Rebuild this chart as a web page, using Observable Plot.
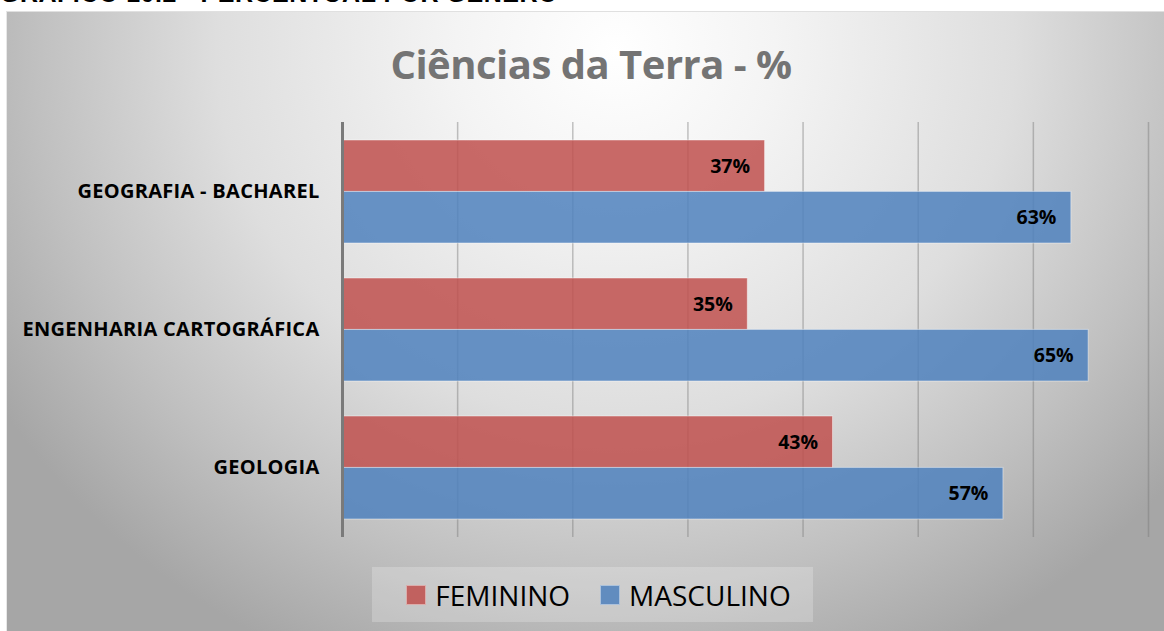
<!DOCTYPE html>
<html>
<head>
<meta charset="utf-8">
<script src="https://cdn.jsdelivr.net/npm/d3@7"></script>
<script src="https://cdn.jsdelivr.net/npm/@observablehq/plot@0.6"></script>
<style>
  html, body { margin: 0; padding: 0; background: #fff; }
  #wrap { position: relative; width: 1164px; height: 631px; overflow: hidden; background: #fff; font-family: "Open Sans", sans-serif; }
  #pretitle { position: absolute; left: 0; top: -21px; font: bold 25px "Liberation Sans", Arial, sans-serif; color: #000; white-space: nowrap; letter-spacing: 0.5px; }
  #box { position: absolute; left: 6px; top: 11px; width: 1170px; height: 640px;
    border-top: 1px solid #e0e0e0; border-left: 1px solid #e8e8e8;
    background: radial-gradient(ellipse 62% 105% at 52% 6%, #ffffff 0%, #f4f4f4 22%, #dedede 55%, #c0c0c0 80%, #a6a6a6 100%); }
  #title { position: absolute; left: 0; width: 1182px; top: 36px; text-align: center; font: bold 40px "Open Sans", sans-serif; color: #747474; letter-spacing: -0.5px; }
  #chart { position: absolute; left: 0; top: 0; }
  #chart g[aria-label="y-axis tick label"] text { letter-spacing: 0.3px; }
  #legend { position: absolute; left: 372px; top: 567px; width: 441px; height: 55px; box-sizing: border-box; padding-left: 12px; background: rgba(255,255,255,0.22); display: flex; align-items: center; justify-content: center; font: 28px "Open Sans", sans-serif; color: #000; }
  .item { display: flex; align-items: center; }
  .sw { width: 18px; height: 18px; margin-right: 9px; border: 1px solid rgba(255,255,255,0.5); }
</style>
</head>
<body>
<div id="wrap">
  <div id="pretitle">GRÁFICO 10.2 - PERCENTUAL POR GÊNERO</div>
  <div id="box"></div>
  <div id="title">Ciências da Terra - %</div>
  <div id="chart"></div>
  <div id="legend"></div>
</div>
<script>
const categories = ["GEOGRAFIA - BACHAREL", "ENGENHARIA CARTOGRÁFICA", "GEOLOGIA"];
const feminino = [36.7, 35.2, 42.6];
const masculino = [63.3, 64.8, 57.4];
const xTicks = [10, 20, 30, 40, 50, 60, 70];
const seriesNames = ["FEMININO", "MASCULINO"];
const seriesColors = ["#c0504d", "#4f81bd"];

const fem = categories.map((c, i) => ({cat: c, v: feminino[i]}));
const mas = categories.map((c, i) => ({cat: c, v: masculino[i]}));
const fmt = d => Math.round(d.v) + "%";

const H = 560, mTop = 122, mBot = 23;
const step = (H - mTop - mBot) / (categories.length - 0.256 + 0.26);
const half = step * 0.744 / 2;

const chart = Plot.plot({
  width: 1164,
  height: H,
  marginLeft: 342,
  marginRight: 16,
  marginTop: mTop,
  marginBottom: mBot,
  style: {background: "transparent", fontFamily: "Open Sans, sans-serif", overflow: "visible"},
  x: {domain: [0, 70], axis: null},
  y: {type: "band", domain: categories, paddingInner: 0.256, paddingOuter: 0.13, label: null},
  marks: [
    Plot.ruleX(xTicks, {stroke: "#7a7a7a", strokeOpacity: 0.45, strokeWidth: 1.5}),
    Plot.barX(fem, {x: "v", y: "cat", fill: seriesColors[0], fillOpacity: 0.85, stroke: "#fff", strokeOpacity: 0.45, strokeWidth: 1, insetBottom: half}),
    Plot.barX(mas, {x: "v", y: "cat", fill: seriesColors[1], fillOpacity: 0.85, stroke: "#fff", strokeOpacity: 0.45, strokeWidth: 1, insetTop: half}),
    Plot.text(fem, {x: "v", y: "cat", text: fmt, dy: -half / 2, dx: -15, textAnchor: "end", fontSize: 19.5, fontWeight: "bold", fill: "#000"}),
    Plot.text(mas, {x: "v", y: "cat", text: fmt, dy: half / 2, dx: -15, textAnchor: "end", fontSize: 19.5, fontWeight: "bold", fill: "#000"}),
    Plot.ruleX([0], {stroke: "#7a7a7a", strokeWidth: 3}),
    Plot.axisY({tickSize: 0, tickPadding: 23, fontSize: 20, fontWeight: "bold", fill: "#000", label: null})
  ]
});
document.getElementById("chart").appendChild(chart);

const legend = document.getElementById("legend");
seriesNames.forEach((n, i) => {
  const it = document.createElement("div");
  it.className = "item";
  it.style.marginRight = i === 0 ? "30px" : "0";
  const sw = document.createElement("div");
  sw.className = "sw";
  sw.style.background = seriesColors[i];
  sw.style.opacity = 0.85;
  const t = document.createElement("span");
  t.textContent = n;
  it.appendChild(sw); it.appendChild(t);
  legend.appendChild(it);
});
</script>
</body>
</html>
